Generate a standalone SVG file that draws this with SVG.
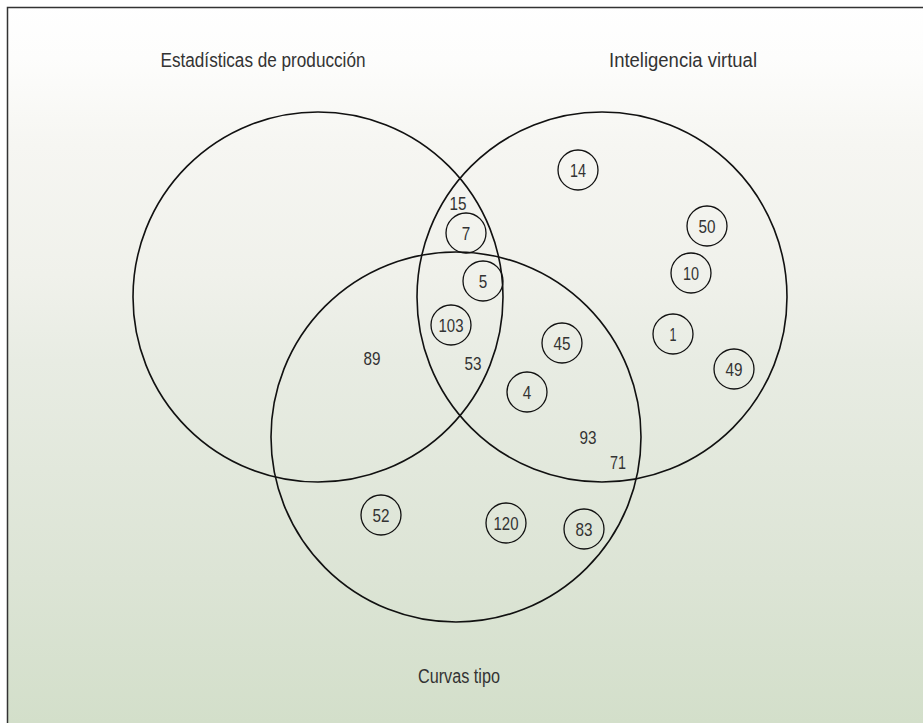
<svg xmlns="http://www.w3.org/2000/svg" width="923" height="723" viewBox="0 0 923 723">
  <defs>
    <linearGradient id="bg" x1="0" y1="0" x2="0" y2="723" gradientUnits="userSpaceOnUse">
      <stop offset="0" stop-color="#ffffff"/>
      <stop offset="0.08" stop-color="#fdfdfc"/>
      <stop offset="0.2" stop-color="#f6f6f2"/>
      <stop offset="0.38" stop-color="#f0f1eb"/>
      <stop offset="0.5" stop-color="#e8ece3"/>
      <stop offset="0.8" stop-color="#dce4d5"/>
      <stop offset="1" stop-color="#d3dfca"/>
    </linearGradient>
    <style>
      .set { fill: none; stroke: #111; stroke-width: 1.6; }
      .item { fill: none; stroke: #111; stroke-width: 1.3; }
      text { font-family: "Liberation Sans Narrow", "Liberation Sans", sans-serif; fill: #333; text-anchor: middle; }
      .title { font-size: 20px; }
      .num { font-size: 19px; dominant-baseline: central; }
    </style>
  </defs>

  <!-- background panel with frame on top and left -->
  <rect x="0" y="0" width="923" height="723" fill="#ffffff"/>
  <rect x="8" y="8" width="915" height="715" fill="url(#bg)"/>
  <path d="M7.5 723 V7.5 H923" fill="none" stroke="#333" stroke-width="1.5"/>

  <!-- set labels (condensed to the narrow face widths) -->
  <text class="title" x="263" y="67" textLength="205" lengthAdjust="spacingAndGlyphs">Estadísticas de producción</text>
  <text class="title" x="683" y="67" textLength="148" lengthAdjust="spacingAndGlyphs">Inteligencia virtual</text>
  <text class="title" x="459" y="683" textLength="82" lengthAdjust="spacingAndGlyphs">Curvas tipo</text>

  <!-- the three sets -->
  <g id="sets">
    <circle id="set-estadisticas" class="set" cx="318" cy="297" r="185"/>
    <circle id="set-inteligencia" class="set" cx="602" cy="297" r="185"/>
    <circle id="set-curvas" class="set" cx="456" cy="437" r="185"/>
  </g>

  <!-- plain counts -->
  <g id="counts">
    <text class="num" x="458" y="203" textLength="17" lengthAdjust="spacingAndGlyphs">15</text>
    <text class="num" x="473" y="363" textLength="17" lengthAdjust="spacingAndGlyphs">53</text>
    <text class="num" x="372" y="358" textLength="17" lengthAdjust="spacingAndGlyphs">89</text>
    <text class="num" x="588" y="437" textLength="17" lengthAdjust="spacingAndGlyphs">93</text>
    <text class="num" x="618" y="462" textLength="16" lengthAdjust="spacingAndGlyphs">71</text>
  </g>

  <!-- circled items -->
  <g id="n14"><circle class="item" cx="578" cy="170" r="20"/><text class="num" x="578" y="170" textLength="16" lengthAdjust="spacingAndGlyphs">14</text></g>
  <g id="n7"><circle class="item" cx="466" cy="233" r="20"/><text class="num" x="466" y="233" textLength="8.5" lengthAdjust="spacingAndGlyphs">7</text></g>
  <g id="n5"><circle class="item" cx="483" cy="281" r="20"/><text class="num" x="483" y="281" textLength="8.5" lengthAdjust="spacingAndGlyphs">5</text></g>
  <g id="n103"><circle class="item" cx="451" cy="325" r="20"/><text class="num" x="451" y="325" textLength="25" lengthAdjust="spacingAndGlyphs">103</text></g>
  <g id="n45"><circle class="item" cx="562" cy="343" r="20"/><text class="num" x="562" y="343" textLength="17" lengthAdjust="spacingAndGlyphs">45</text></g>
  <g id="n4"><circle class="item" cx="527" cy="392" r="20"/><text class="num" x="527" y="392" textLength="8.5" lengthAdjust="spacingAndGlyphs">4</text></g>
  <g id="n50"><circle class="item" cx="707" cy="226" r="20"/><text class="num" x="707" y="226" textLength="17" lengthAdjust="spacingAndGlyphs">50</text></g>
  <g id="n10"><circle class="item" cx="691" cy="273" r="20"/><text class="num" x="691" y="273" textLength="16" lengthAdjust="spacingAndGlyphs">10</text></g>
  <g id="n1"><circle class="item" cx="673" cy="334" r="20"/><text class="num" x="673" y="334" textLength="7" lengthAdjust="spacingAndGlyphs">1</text></g>
  <g id="n49"><circle class="item" cx="734" cy="369" r="20"/><text class="num" x="734" y="369" textLength="17" lengthAdjust="spacingAndGlyphs">49</text></g>
  <g id="n52"><circle class="item" cx="381" cy="515" r="20"/><text class="num" x="381" y="515" textLength="17" lengthAdjust="spacingAndGlyphs">52</text></g>
  <g id="n120"><circle class="item" cx="506" cy="523" r="20"/><text class="num" x="506" y="523" textLength="25" lengthAdjust="spacingAndGlyphs">120</text></g>
  <g id="n83"><circle class="item" cx="584" cy="529" r="20"/><text class="num" x="584" y="529" textLength="17" lengthAdjust="spacingAndGlyphs">83</text></g>
</svg>
